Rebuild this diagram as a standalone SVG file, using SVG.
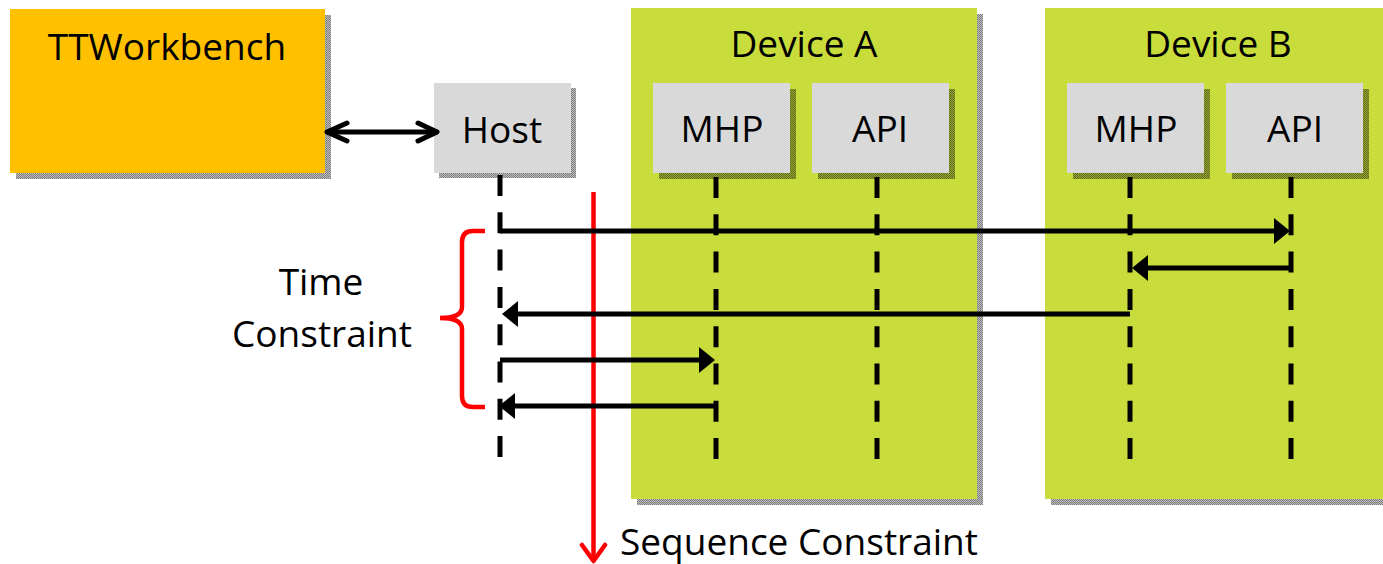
<svg xmlns="http://www.w3.org/2000/svg" width="1383" height="564" viewBox="0 0 1383 564">
<style>
  text { font-family: "Open Sans", "Liberation Sans", sans-serif; font-size: 37px; fill: #000; text-anchor: middle; }
  .shadow { fill: url(#checker); }
  .gray { fill: #D9D9D9; }
  .green { fill: #C8DC3C; }
  .life { stroke: #000; stroke-width: 5; stroke-dasharray: 21 16.3; fill: none; }
  .msg { stroke: #000; stroke-width: 5; fill: none; }
  .red { stroke: #FF0000; stroke-width: 4.5; fill: none; }
</style>
<defs>
  <pattern id="checker" patternUnits="userSpaceOnUse" width="2" height="2">
    <rect width="2" height="2" fill="#000" fill-opacity="0.25"/>
    <rect width="1" height="1" fill="#000" fill-opacity="0.35"/>
    <rect x="1" y="1" width="1" height="1" fill="#000" fill-opacity="0.35"/>
  </pattern>
  <marker id="head" markerUnits="userSpaceOnUse" markerWidth="17" markerHeight="26" refX="1" refY="13" orient="auto">
    <path d="M0,0 L16,13 L0,26 Z" fill="#000"/>
  </marker>
</defs>

<g id="ttworkbench">
  <rect class="shadow" x="16" y="15" width="315" height="164"/>
  <rect x="10" y="9" width="315" height="164" fill="#FFC000"/>
  <text x="167" y="60">TTWorkbench</text>
</g>

<g id="host">
  <rect class="shadow" x="439" y="88" width="137" height="90"/>
  <rect class="gray" x="434" y="83" width="137" height="90"/>
  <text x="502" y="143">Host</text>
  <line class="life" x1="500" y1="175" x2="500" y2="458"/>
</g>

<g id="deviceA">
  <rect class="shadow" x="637" y="14" width="346" height="491"/>
  <rect class="green" x="631" y="8" width="346" height="491"/>
  <text x="804" y="57">Device A</text>
  <g id="mhpA">
    <rect class="shadow" x="659" y="89" width="137" height="90"/>
    <rect class="gray" x="653" y="83" width="137" height="90"/>
    <text x="722" y="142">MHP</text>
    <line class="life" x1="716" y1="177" x2="716" y2="459"/>
  </g>
  <g id="apiA">
    <rect class="shadow" x="818" y="89" width="137" height="90"/>
    <rect class="gray" x="812" y="83" width="137" height="90"/>
    <text x="880" y="142">API</text>
    <line class="life" x1="877" y1="177" x2="877" y2="459"/>
  </g>
</g>

<g id="deviceB">
  <rect class="shadow" x="1051" y="14" width="346" height="491"/>
  <rect class="green" x="1045" y="8" width="346" height="491"/>
  <text x="1218" y="57">Device B</text>
  <g id="mhpB">
    <rect class="shadow" x="1073" y="89" width="137" height="90"/>
    <rect class="gray" x="1067" y="83" width="137" height="90"/>
    <text x="1136" y="142">MHP</text>
    <line class="life" x1="1130" y1="177" x2="1130" y2="459"/>
  </g>
  <g id="apiB">
    <rect class="shadow" x="1232" y="89" width="137" height="90"/>
    <rect class="gray" x="1226" y="83" width="137" height="90"/>
    <text x="1295" y="142">API</text>
    <line class="life" x1="1291" y1="177" x2="1291" y2="459"/>
  </g>
</g>

<g id="annotations">
  <path class="red" d="M485,231 L473,231 Q462,231 462,242 L462,307 Q462,318 440,318 Q462,318 462,329 L462,396 Q462,407 473,407 L485,407"/>
  <text x="321" y="295">Time</text>
  <text x="322" y="347">Constraint</text>
  <line class="red" x1="593.5" y1="192" x2="593.5" y2="560"/>
  <path class="red" d="M582,545 L593.5,561 L605,545" stroke-linecap="round" stroke-linejoin="round"/>
  <text x="799" y="555">Sequence Constraint</text>
</g>

<g id="connectors">
  <g stroke="#000" stroke-width="5" fill="none" stroke-linecap="round" stroke-linejoin="round">
    <line x1="328" y1="132" x2="436" y2="132"/>
    <path d="M347,123 L327,132 L347,141"/>
    <path d="M418,123 L437,132 L418,141"/>
  </g>
  <line class="msg" x1="500" y1="231" x2="1275" y2="231" marker-end="url(#head)"/>
  <line class="msg" x1="1291" y1="268" x2="1147" y2="268" marker-end="url(#head)"/>
  <line class="msg" x1="1130" y1="314" x2="517" y2="314" marker-end="url(#head)"/>
  <line class="msg" x1="500" y1="360" x2="700" y2="360" marker-end="url(#head)"/>
  <line class="msg" x1="716" y1="406" x2="514" y2="406" marker-end="url(#head)"/>
</g>
</svg>
